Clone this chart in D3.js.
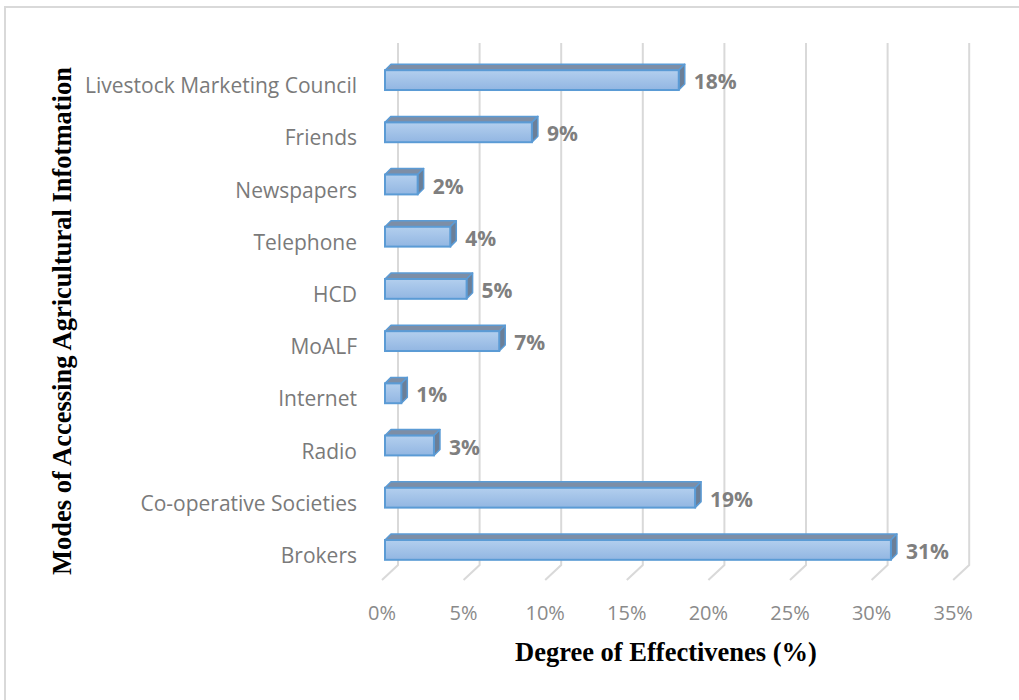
<!DOCTYPE html>
<html>
<head>
<meta charset="utf-8">
<script src="https://cdn.jsdelivr.net/npm/d3@7"></script>
<style>
  html, body { margin: 0; padding: 0; background: #fff; }
  svg { display: block; }
</style>
</head>
<body>
<svg id="chart" width="1019" height="700"></svg>
<script>
// Modes of accessing agricultural information, top to bottom
const categories = [
  "Livestock Marketing Council", "Friends", "Newspapers", "Telephone", "HCD",
  "MoALF", "Internet", "Radio", "Co-operative Societies", "Brokers"
];
const effectiveness = [18, 9, 2, 4, 5, 7, 1, 3, 19, 31];
const tickValues = [0, 5, 10, 15, 20, 25, 30, 35];

const svg = d3.select("#chart");
const sansFont = "'Open Sans', Lato, sans-serif";
const serifFont = "'Liberation Serif', 'Times New Roman', serif";

// chart frame
svg.append("path")
  .attr("d", "M5,700 V7 H1019")
  .attr("fill", "none")
  .attr("stroke", "#d9d9d9")
  .attr("stroke-width", 2);

// back wall scale and 3D offsets
const x = d3.scaleLinear().domain([0, 35]).range([398, 969.2]);
const wallTop = 43, wallBottom = 565;
const floorDx = -16, floorDy = 15;      // back wall -> front edge of floor
const frontDx = -13;                    // back wall -> front face of bars
const depthDx = 6, depthDy = -6;        // bar depth (front -> back)

const y = d3.scaleBand().domain(categories).range([54, 576]).paddingInner(0.62).paddingOuter(0.31);

// gridlines on back wall and floor
const grid = svg.append("g").attr("stroke", "#d9d9d9").attr("stroke-width", 2).attr("fill", "none");
tickValues.forEach(t => {
  const gx = x(t);
  grid.append("path")
    .attr("d", `M${gx},${wallTop} V${wallBottom} L${gx + floorDx},${wallBottom + floorDy}`);
});

// gradient for bar front faces
const defs = svg.append("defs");
const grad = defs.append("linearGradient").attr("id", "barFront")
  .attr("x1", 0).attr("y1", 0).attr("x2", 0).attr("y2", 1);
grad.append("stop").attr("offset", "0%").attr("stop-color", "#b3cfee");
grad.append("stop").attr("offset", "100%").attr("stop-color", "#92b6e2");

const bh = y.bandwidth();
const bars = svg.append("g");
categories.forEach((c, i) => {
  const v = effectiveness[i];
  const x0 = x(0) + frontDx, x1 = x(v) + frontDx;
  const y0 = y(c), y1 = y0 + bh;
  const g = bars.append("g");
  // top face
  g.append("path")
    .attr("d", `M${x0},${y0} L${x0 + depthDx},${y0 + depthDy} L${x1 + depthDx},${y0 + depthDy} L${x1},${y0} Z`)
    .attr("fill", "#7d8ea6").attr("stroke", "#5b9bd5").attr("stroke-width", 1.5).attr("stroke-linejoin", "round");
  // side face
  g.append("path")
    .attr("d", `M${x1},${y0} L${x1 + depthDx},${y0 + depthDy} L${x1 + depthDx},${y1 + depthDy} L${x1},${y1} Z`)
    .attr("fill", "#6b7f98").attr("stroke", "#5b9bd5").attr("stroke-width", 1.5).attr("stroke-linejoin", "round");
  // front face
  g.append("rect")
    .attr("x", x0).attr("y", y0).attr("width", x1 - x0).attr("height", bh)
    .attr("fill", "url(#barFront)").attr("stroke", "#5b9bd5").attr("stroke-width", 2);
  // value label
  svg.append("text")
    .attr("x", x1 + depthDx + 9)
    .attr("y", y0 + bh / 2 + 1)
    .attr("dominant-baseline", "central")
    .attr("font-family", sansFont)
    .attr("font-weight", "bold")
    .attr("font-size", 21)
    .attr("fill", "#7f7f7f")
    .text(v + "%");
});

// category labels
svg.append("g").selectAll("text").data(categories).join("text")
  .attr("x", 357)
  .attr("y", d => y(d) + bh / 2 + 5)
  .attr("text-anchor", "end")
  .attr("dominant-baseline", "central")
  .attr("font-family", sansFont)
  .attr("font-size", 21)
  .attr("fill", "#7a7a7a")
  .text(d => d);

// value axis tick labels along the front edge of the floor
svg.append("g").selectAll("text").data(tickValues).join("text")
  .attr("x", d => x(d) + floorDx)
  .attr("y", 612)
  .attr("text-anchor", "middle")
  .attr("dominant-baseline", "central")
  .attr("font-family", sansFont)
  .attr("font-size", 20)
  .attr("fill", "#8a8a8a")
  .text(d => d + "%");

// axis titles
svg.append("text")
  .attr("x", 666).attr("y", 652)
  .attr("text-anchor", "middle")
  .attr("dominant-baseline", "central")
  .attr("font-family", serifFont)
  .attr("font-weight", "bold")
  .attr("font-size", 26.5)
  .attr("fill", "#000")
  .text("Degree of Effectivenes (%)");

svg.append("text")
  .attr("transform", "translate(62,321) rotate(-90)")
  .attr("text-anchor", "middle")
  .attr("dominant-baseline", "central")
  .attr("font-family", serifFont)
  .attr("font-weight", "bold")
  .attr("font-size", 26.5)
  .attr("fill", "#000")
  .text("Modes of Accessing Agricultural Infotmation");
</script>
</body>
</html>
